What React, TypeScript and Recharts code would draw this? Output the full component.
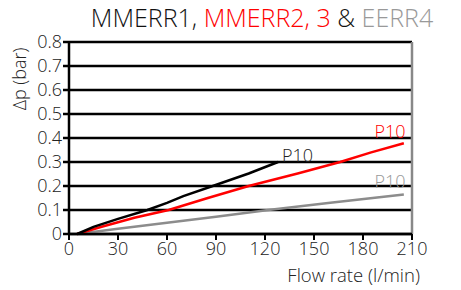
import React from 'react';
import { LineChart, Line, XAxis, YAxis, CartesianGrid, ReferenceLine, ReferenceDot } from 'recharts';

const xTicks = [0, 30, 60, 90, 120, 150, 180, 210];
const yTicks = [0, 0.1, 0.2, 0.3, 0.4, 0.5, 0.6, 0.7, 0.8];

const mmerr1 = [
  { x: 5, y: 0 }, { x: 15, y: 0.03 }, { x: 30, y: 0.063 }, { x: 48, y: 0.1 },
  { x: 60, y: 0.13 }, { x: 70, y: 0.158 }, { x: 88, y: 0.2 }, { x: 110, y: 0.252 }, { x: 128, y: 0.3 },
];
const mmerr23 = [
  { x: 5, y: 0 }, { x: 20, y: 0.03 }, { x: 40, y: 0.068 }, { x: 61, y: 0.1 },
  { x: 85, y: 0.15 }, { x: 110, y: 0.2 }, { x: 140, y: 0.252 }, { x: 166, y: 0.3 },
  { x: 185, y: 0.34 }, { x: 205, y: 0.378 },
];
const eerr4 = [
  { x: 5, y: 0 }, { x: 30, y: 0.022 }, { x: 60, y: 0.047 }, { x: 90, y: 0.072 },
  { x: 122, y: 0.1 }, { x: 160, y: 0.13 }, { x: 205, y: 0.165 },
];

const font = '"Open Sans", sans-serif';

export default function App() {
  return (
    <div style={{ position: 'absolute', left: 0, top: 0, width: 461, height: 290, fontFamily: font, fontWeight: 300, background: '#fff', overflow: 'hidden' }}>
      <div style={{ position: 'absolute', left: 262, top: 17, transform: 'translate(-50%, -50%)', fontSize: 25, lineHeight: '32px', whiteSpace: 'nowrap', color: '#111' }}>
        <span>MMERR1, </span><span style={{ color: '#ff0000' }}>MMERR2, 3</span><span> &amp; </span><span style={{ color: '#999' }}>EERR4</span>
      </div>
      <div style={{ position: 'absolute', left: 19, top: 79, transform: 'translate(-50%, -50%) rotate(-90deg)', fontSize: 18, lineHeight: '24px', color: '#222', whiteSpace: 'nowrap' }}>Δp (bar)</div>
      <div style={{ position: 'absolute', right: 41, top: 275, transform: 'translateY(-50%)', fontSize: 18.5, lineHeight: '24px', color: '#222', whiteSpace: 'nowrap' }}>Flow rate (l/min)</div>
      <LineChart width={461} height={290} margin={{ top: 42, right: 49, left: 0, bottom: 0 }} style={{ position: 'absolute', left: 0, top: 0 }}>
        <CartesianGrid vertical={false} horizontal stroke="#000" strokeWidth={2.5} horizontalValues={yTicks} />
        <XAxis type="number" dataKey="x" domain={[0, 210]} ticks={xTicks} height={56} interval={0}
          tick={{ fontSize: 18, fill: '#222', fontFamily: font, fontWeight: 300 }} tickSize={6} tickMargin={2}
          axisLine={{ stroke: '#000', strokeWidth: 2.5 }} tickLine={{ stroke: '#000', strokeWidth: 2 }} allowDataOverflow />
        <YAxis type="number" domain={[0, 0.8]} ticks={yTicks} width={69} interval={0}
          tick={{ fontSize: 18, fill: '#222', fontFamily: font, fontWeight: 300 }} tickSize={6} tickMargin={1}
          axisLine={{ stroke: '#000', strokeWidth: 2.5 }} tickLine={{ stroke: '#000', strokeWidth: 2.5 }} />
        <ReferenceLine x={210} stroke="#888" strokeWidth={2.5} />
        <Line data={eerr4} dataKey="y" type="linear" stroke="#8c8c8c" strokeWidth={2.5} dot={false} isAnimationActive={false} />
        <Line data={mmerr23} dataKey="y" type="linear" stroke="#ff0000" strokeWidth={2.5} dot={false} isAnimationActive={false} />
        <Line data={mmerr1} dataKey="y" type="linear" stroke="#000" strokeWidth={2.5} dot={false} isAnimationActive={false} />
        <ReferenceDot x={128} y={0.3} r={0} stroke="none" label={{ value: 'P10', position: 'right', offset: 4, dy: -6, fontSize: 18, fill: '#222', fontFamily: font, fontWeight: 300 }} />
        <ReferenceDot x={196.5} y={0.378} r={0} stroke="none" label={{ value: 'P10', position: 'top', offset: 5, fontSize: 18, fill: '#ff0000', fontFamily: font, fontWeight: 300 }} />
        <ReferenceDot x={196.5} y={0.165} r={0} stroke="none" label={{ value: 'P10', position: 'top', offset: 6, fontSize: 18, fill: '#999', fontFamily: font, fontWeight: 300 }} />
      </LineChart>
    </div>
  );
}
